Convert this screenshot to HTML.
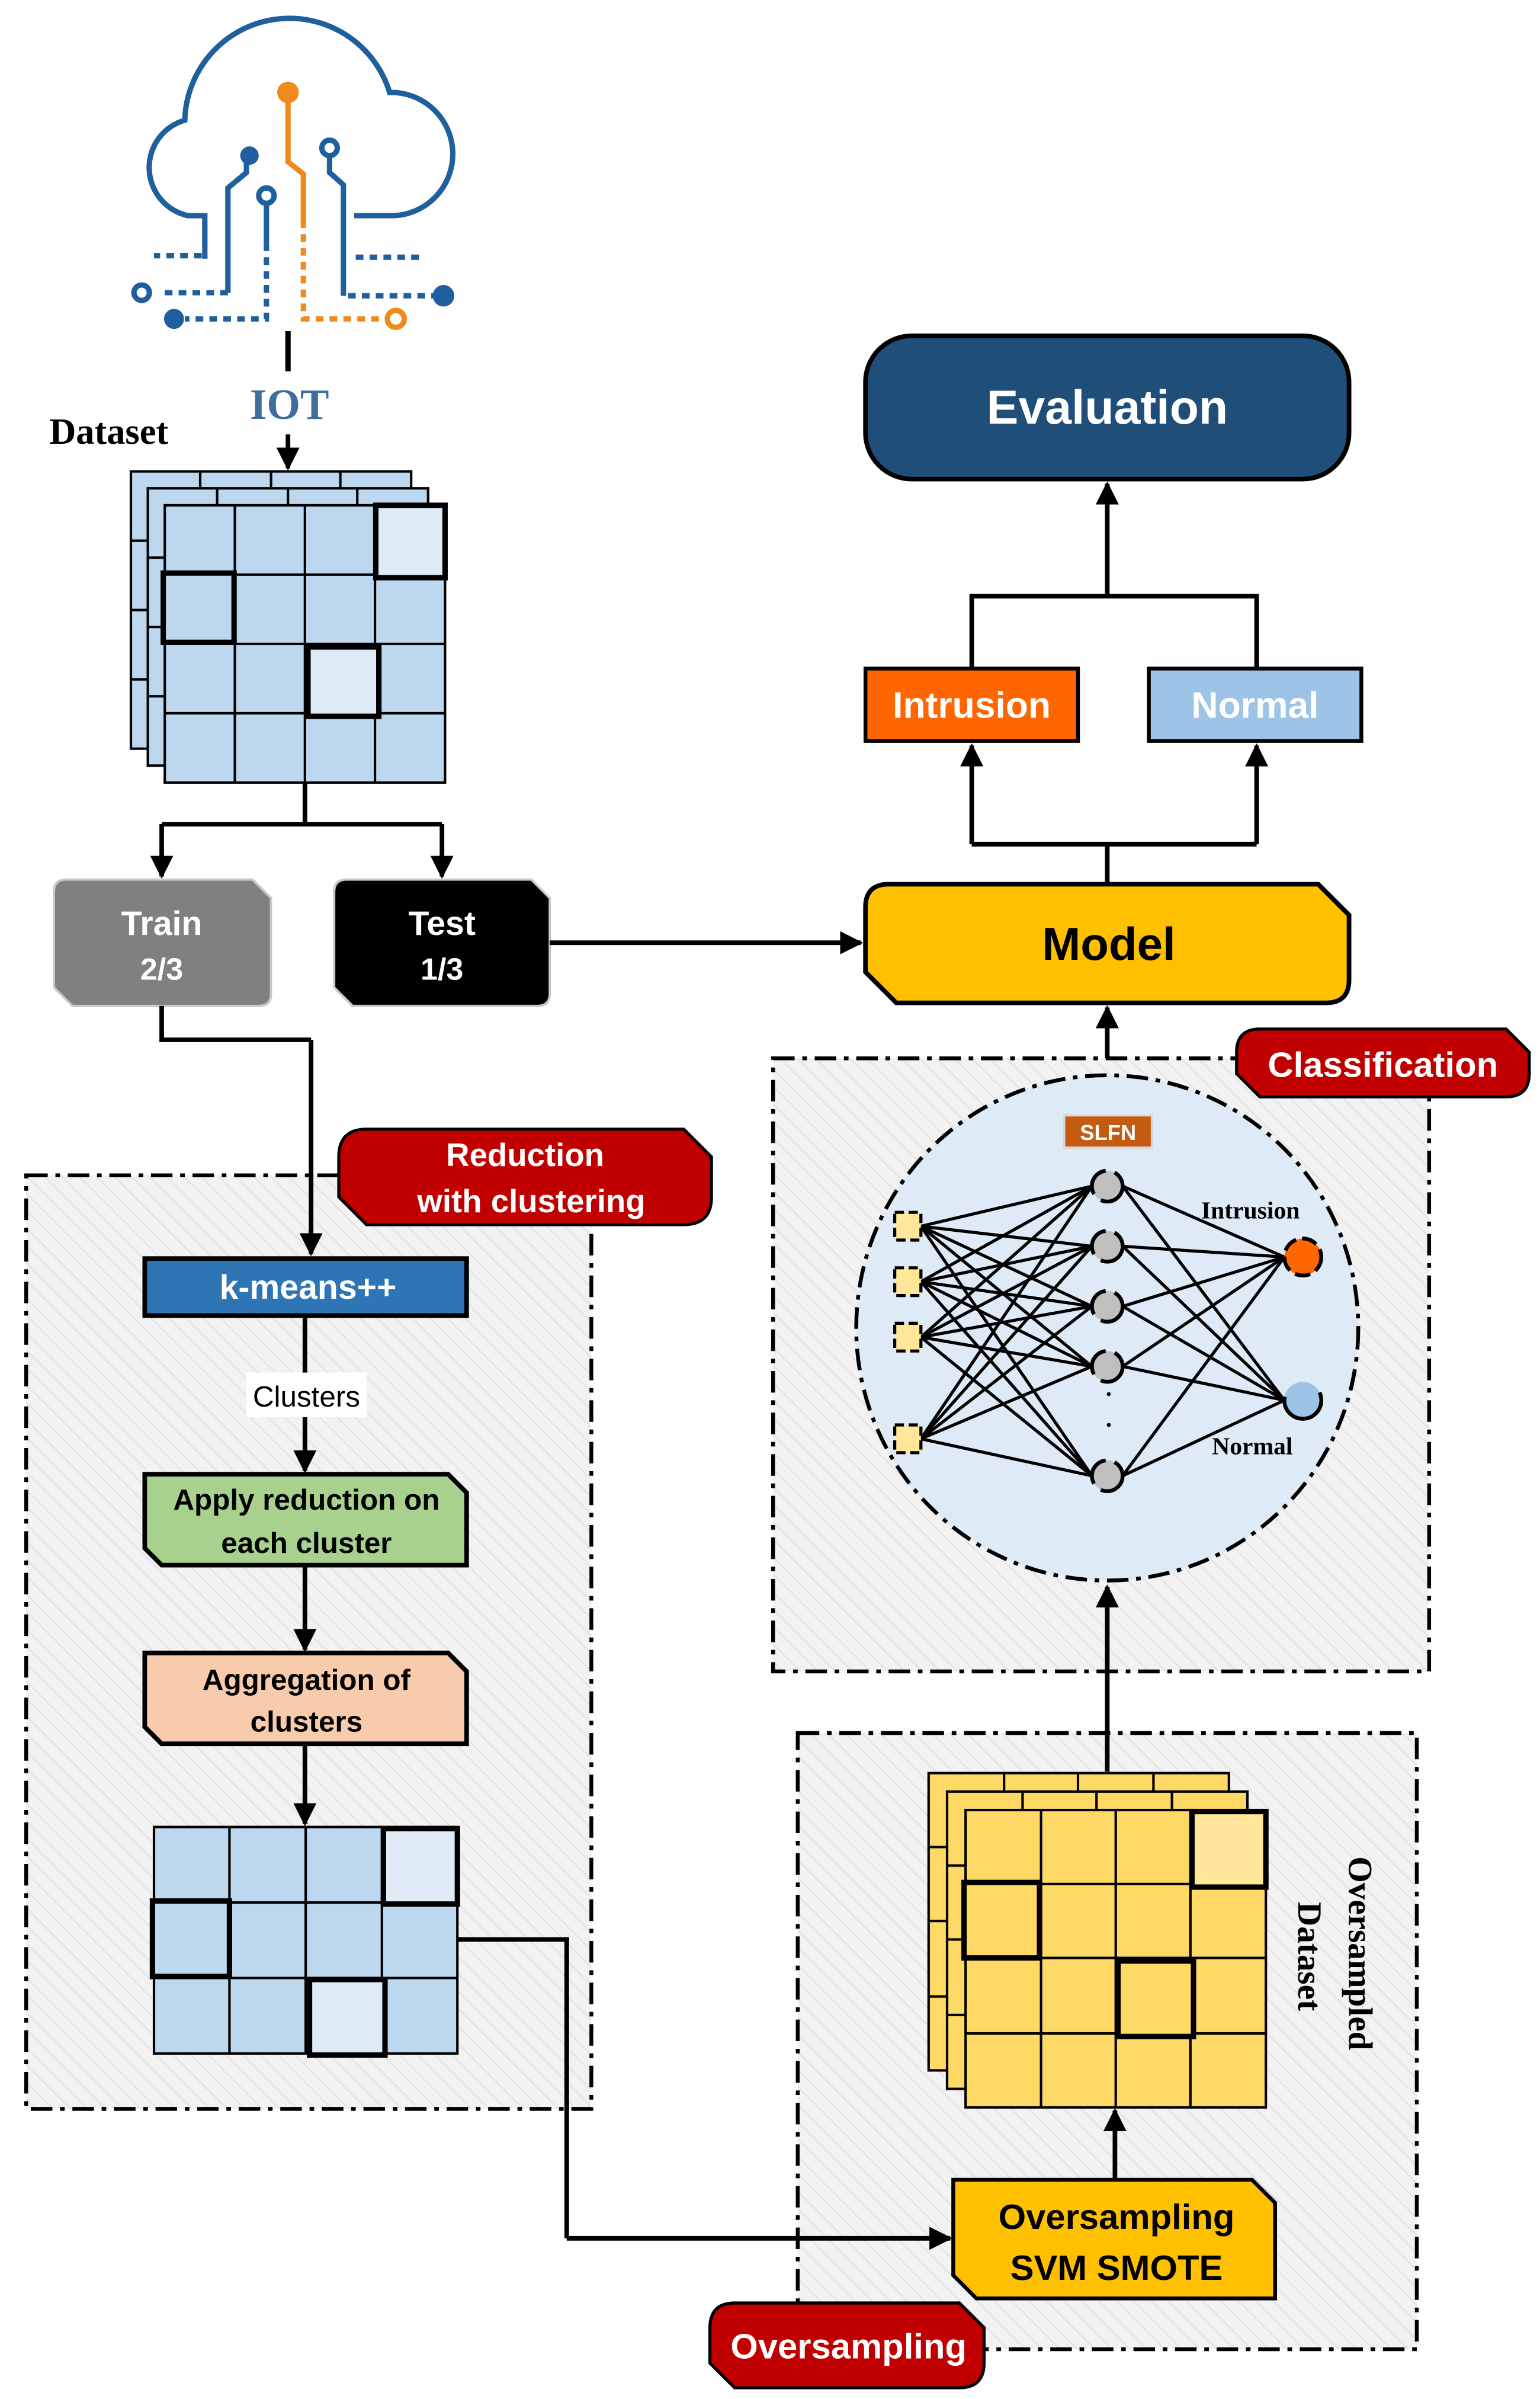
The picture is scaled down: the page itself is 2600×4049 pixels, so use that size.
<!DOCTYPE html>
<html><head><meta charset="utf-8"><style>html,body{margin:0;padding:0;background:#fff}svg{display:block}</style></head>
<body>
<svg width="2600" height="4049" viewBox="0 0 1000 1557.3" xmlns="http://www.w3.org/2000/svg">
<defs>
<pattern id="h" patternUnits="userSpaceOnUse" width="8" height="8" patternTransform="rotate(-45)">
<rect width="8" height="8" fill="#f2f2f2"/><line x1="0" y1="0" x2="0" y2="8" stroke="#e0e0e0" stroke-width="1.5"/></pattern>
<marker id="a" viewBox="0 0 10 10" refX="9" refY="5" markerWidth="5" markerHeight="5" orient="auto" markerUnits="strokeWidth"><path d="M0,0 L10,5 L0,10 Z" fill="#000"/></marker>
</defs>
<g font-family="Liberation Sans, sans-serif" font-weight="bold">

<!-- cloud -->
<g fill="none" stroke="#1f5f9e" stroke-width="3.5">
<path d="M133,168 L133,140 L122,140 A32,32 0 0 1 120,78 A68,68 0 0 1 253,60 A40,40 0 0 1 255,140 L230,140"/>
<path d="M148,190 L148,122 L160,112 L160,103"/>
<path d="M173,133 L173,158"/>
<path d="M214,101 L214,112 L223,120 L223,192"/>
<path d="M131,166 L100,166 M173,158 L173,207 L120,207 M148,190 L106,190 M226,192 L282,192 M231,167 L275,167" stroke-dasharray="5 4"/>
<circle cx="173" cy="127" r="5"/><circle cx="214" cy="96" r="5"/><circle cx="92" cy="190" r="5"/>
</g>
<circle cx="162" cy="101" r="6" fill="#1f5f9e"/><circle cx="113" cy="207" r="6.5" fill="#1f5f9e"/><circle cx="288" cy="192" r="7" fill="#1f5f9e"/>
<g fill="none" stroke="#f08a1c" stroke-width="3.5">
<path d="M187,62 L187,105 L197,113 L197,148"/>
<path d="M197,152 L197,207 L250,207" stroke-dasharray="5 4"/>
<circle cx="257" cy="207" r="5.5"/>
</g>
<circle cx="187" cy="60" r="7" fill="#f08a1c"/>

<line x1="187" y1="215" x2="187" y2="241" stroke="#000" stroke-width="3.5"/>
<text x="188" y="272" text-anchor="middle" font-family="Liberation Serif, serif" font-size="28" fill="#3e6e9e">IOT</text>
<text x="32" y="288" font-family="Liberation Serif, serif" font-size="24" fill="#000">Dataset</text>
<line x1="187" y1="282" x2="187" y2="304" stroke="#000" stroke-width="3" marker-end="url(#a)"/>

<!-- blue grid stack -->
<g stroke="#000" stroke-width="1.6" fill="#bdd7ee">
<rect x="85" y="306" width="182" height="180"/>
<path d="M130,306 V317 M176,306 V317 M221,306 V317 M85,351 H96 M85,396 H96 M85,441 H96" fill="none"/>
<rect x="96" y="317" width="182" height="180"/>
<path d="M141,317 V328 M187,317 V328 M232,317 V328 M96,362 H107 M96,407 H107 M96,452 H107" fill="none"/>
<rect x="107" y="328" width="182" height="180"/>
<path d="M152.5,328 V508 M198,328 V508 M243.5,328 V508 M107,373 H289 M107,418 H289 M107,463 H289" fill="none"/>
</g>
<g stroke="#000" stroke-width="3.5">
<rect x="244" y="328" width="45" height="47" fill="#deebf7"/>
<rect x="106" y="372" width="46" height="45" fill="#bdd7ee"/>
<rect x="200" y="420" width="46" height="45" fill="#deebf7"/>
</g>

<!-- split -->
<g stroke="#000" stroke-width="3" fill="none">
<path d="M198,508 V535 M105,535 H287"/>
<line x1="105" y1="535" x2="105" y2="569" marker-end="url(#a)"/>
<line x1="287" y1="535" x2="287" y2="569" marker-end="url(#a)"/>
</g>

<!-- Train / Test -->
<path d="M43,571 L164,571 L176,583 L176,645 Q176,653 168,653 L47,653 L35,641 L35,579 Q35,571 43,571Z" fill="#808080" stroke="#c8c8c8" stroke-width="1.5"/>
<text x="105" y="607" text-anchor="middle" font-size="22" fill="#fff">Train</text>
<text x="105" y="636" text-anchor="middle" font-size="20" fill="#fff">2/3</text>
<path d="M225,571 L345,571 L357,583 L357,645 Q357,653 349,653 L229,653 L217,641 L217,579 Q217,571 225,571Z" fill="#000" stroke="#c8c8c8" stroke-width="1.5"/>
<text x="287" y="607" text-anchor="middle" font-size="22" fill="#fff">Test</text>
<text x="287" y="636" text-anchor="middle" font-size="20" fill="#fff">1/3</text>
<line x1="357" y1="612" x2="559" y2="612" stroke="#000" stroke-width="3" marker-end="url(#a)"/>

<!-- Model -->
<path d="M577,574 L856,574 L876,594 L876,636 Q876,651 861,651 L582,651 L562,631 L562,589 Q562,574 577,574Z" fill="#ffc000" stroke="#000" stroke-width="3"/>
<text x="720" y="623" text-anchor="middle" font-size="30" fill="#000">Model</text>

<g stroke="#000" stroke-width="3" fill="none">
<path d="M719,574 V548 M631,548 H816"/>
<line x1="631" y1="548" x2="631" y2="484" marker-end="url(#a)"/>
<line x1="816" y1="548" x2="816" y2="484" marker-end="url(#a)"/>
<path d="M631,434 V387 H816 V434"/>
<line x1="719" y1="387" x2="719" y2="314" marker-end="url(#a)"/>
</g>
<rect x="562" y="434" width="138" height="47" fill="#ff6600" stroke="#000" stroke-width="2.5"/>
<text x="631" y="466" text-anchor="middle" font-size="24" fill="#fff">Intrusion</text>
<rect x="746" y="434" width="138" height="47" fill="#9dc3e6" stroke="#000" stroke-width="2.5"/>
<text x="815" y="466" text-anchor="middle" font-size="24" fill="#fff">Normal</text>
<rect x="562" y="218" width="314" height="93" rx="30" fill="#1f4e79" stroke="#000" stroke-width="3"/>
<text x="719" y="275" text-anchor="middle" font-size="31" fill="#fff">Evaluation</text>

<!-- Classification box -->
<rect x="502" y="687" width="426" height="398" fill="url(#h)" stroke="#000" stroke-width="2.5" stroke-dasharray="14 5 3 5"/>
<line x1="719" y1="687" x2="719" y2="654" stroke="#000" stroke-width="3" marker-end="url(#a)"/>
<path d="M818,668 L978,668 L993,683 L993,697 Q993,712 978,712 L818,712 L803,697 L803,683 Q803,668 818,668Z" fill="#c00000" stroke="#000" stroke-width="2"/>
<text x="898" y="699" text-anchor="middle" font-size="23" fill="#fff">Classification</text>
<ellipse cx="719" cy="862" rx="163" ry="164" fill="#deebf7" stroke="#000" stroke-width="2.5" stroke-dasharray="14 5 3 5"/>
<rect x="691" y="724" width="57" height="21" fill="#c55a11" stroke="#d9d9d9" stroke-width="1.5"/>
<text x="719.5" y="740" text-anchor="middle" font-size="14" fill="#fff">SLFN</text>
<g stroke="#000" stroke-width="2">
<path d="M598,796 L709,770 M598,796 L709,809 M598,796 L709,848 M598,796 L709,887 M598,796 L709,958
M598,832 L709,770 M598,832 L709,809 M598,832 L709,848 M598,832 L709,887 M598,832 L709,958
M598,868 L709,770 M598,868 L709,809 M598,868 L709,848 M598,868 L709,887 M598,868 L709,958
M598,934 L709,770 M598,934 L709,809 M598,934 L709,848 M598,934 L709,887 M598,934 L709,958
M729,770 L834,816 M729,770 L834,909 M729,809 L834,816 M729,809 L834,909 M729,848 L834,816 M729,848 L834,909
M729,887 L834,816 M729,887 L834,909 M729,958 L834,816 M729,958 L834,909"/>
</g>
<g fill="#ffe699" stroke="#000" stroke-width="2" stroke-dasharray="6 3">
<rect x="581" y="787" width="17" height="18"/><rect x="581" y="823" width="17" height="18"/>
<rect x="581" y="859" width="17" height="18"/><rect x="581" y="925" width="17" height="18"/>
</g>
<g fill="#bfbfbf" stroke="#000" stroke-width="2.5" stroke-dasharray="20 6">
<circle cx="719" cy="770" r="10"/><circle cx="719" cy="809" r="10"/><circle cx="719" cy="848" r="10"/>
<circle cx="719" cy="887" r="10"/><circle cx="719" cy="958" r="10"/>
</g>
<circle cx="720" cy="905" r="1.3" fill="#000"/><circle cx="720" cy="925" r="1.3" fill="#000"/>
<circle cx="846" cy="816" r="12" fill="#ff6600" stroke="#000" stroke-width="2.5" stroke-dasharray="10 4"/>
<circle cx="846" cy="909" r="12" fill="#9dc3e6" stroke="#000" stroke-width="2.5" stroke-dasharray="40 30"/>
<text x="780" y="791" font-family="Liberation Serif, serif" font-size="16" fill="#000">Intrusion</text>
<text x="787" y="944" font-family="Liberation Serif, serif" font-size="16" fill="#000">Normal</text>

<!-- Reduction box -->
<rect x="17" y="763" width="367" height="606" fill="url(#h)" stroke="#000" stroke-width="2.5" stroke-dasharray="14 5 3 5"/>
<path d="M105,653 V675 H202" stroke="#000" stroke-width="3" fill="none"/>
<line x1="202" y1="675" x2="202" y2="814" stroke="#000" stroke-width="3" marker-end="url(#a)"/>
<path d="M238,733 L444,733 L462,751 L462,777 Q462,795 444,795 L238,795 L220,777 L220,751 Q220,733 238,733Z" fill="#c00000" stroke="#000" stroke-width="2"/>
<text x="341" y="757" text-anchor="middle" font-size="21" fill="#fff">Reduction</text>
<text x="345" y="787" text-anchor="middle" font-size="21" fill="#fff">with clustering</text>
<rect x="94" y="817" width="209" height="37" fill="#2e75b6" stroke="#000" stroke-width="3"/>
<text x="200" y="843" text-anchor="middle" font-size="22" fill="#fff">k-means++</text>
<line x1="198" y1="855" x2="198" y2="955" stroke="#000" stroke-width="3" marker-end="url(#a)"/>
<rect x="160" y="891" width="78" height="29" fill="#fff"/>
<text x="199" y="913" text-anchor="middle" font-size="19" font-weight="normal" fill="#000">Clusters</text>
<path d="M94,957 L291,957 L303,969 L303,1016 L105,1016 L94,1005 Z" fill="#a9d18e" stroke="#000" stroke-width="3"/>
<text x="199" y="980" text-anchor="middle" font-size="19" fill="#000">Apply reduction on</text>
<text x="199" y="1008" text-anchor="middle" font-size="19" fill="#000">each cluster</text>
<line x1="198" y1="1016" x2="198" y2="1071" stroke="#000" stroke-width="3" marker-end="url(#a)"/>
<path d="M94,1073 L291,1073 L303,1085 L303,1132 L105,1132 L94,1121 Z" fill="#f8cbad" stroke="#000" stroke-width="3"/>
<text x="199" y="1097" text-anchor="middle" font-size="19" fill="#000">Aggregation of</text>
<text x="199" y="1124" text-anchor="middle" font-size="19" fill="#000">clusters</text>
<line x1="198" y1="1132" x2="198" y2="1184" stroke="#000" stroke-width="3" marker-end="url(#a)"/>
<g stroke="#000" stroke-width="1.6" fill="#bdd7ee">
<rect x="100" y="1186" width="197" height="147"/>
<path d="M149,1186 V1333 M198.5,1186 V1333 M248,1186 V1333 M100,1235 H297 M100,1284 H297" fill="none"/>
</g>
<g stroke="#000" stroke-width="3.5">
<rect x="249" y="1187" width="48" height="49" fill="#deebf7"/>
<rect x="99" y="1234" width="50" height="49" fill="#bdd7ee"/>
<rect x="201" y="1285" width="49" height="49" fill="#deebf7"/>
</g>

<!-- Oversampling box -->
<rect x="518" y="1125" width="402" height="400" fill="url(#h)" stroke="#000" stroke-width="2.5" stroke-dasharray="14 5 3 5"/>
<path d="M297,1259 H368 V1453" stroke="#000" stroke-width="3" fill="none"/>
<line x1="368" y1="1453" x2="617" y2="1453" stroke="#000" stroke-width="3" marker-end="url(#a)"/>
<g stroke="#000" stroke-width="1.6" fill="#ffd966">
<rect x="603" y="1151" width="195" height="193"/>
<path d="M652,1151 V1163 M700,1151 V1163 M749,1151 V1163 M603,1199 H615 M603,1247 H615 M603,1296 H615" fill="none"/>
<rect x="615" y="1163" width="195" height="193"/>
<path d="M664,1163 V1175 M712,1163 V1175 M761,1163 V1175 M615,1211 H627 M615,1259 H627 M615,1308 H627" fill="none"/>
<rect x="627" y="1175" width="195" height="193"/>
<path d="M676,1175 V1368 M724.5,1175 V1368 M773,1175 V1368 M627,1223 H822 M627,1271 H822 M627,1320 H822" fill="none"/>
</g>
<g stroke="#000" stroke-width="3.5">
<rect x="774" y="1176" width="48" height="49" fill="#ffe699"/>
<rect x="626" y="1222" width="49" height="49" fill="#ffd966"/>
<rect x="726" y="1273" width="49" height="49" fill="#ffd966"/>
</g>
<line x1="719" y1="1150" x2="719" y2="1030" stroke="#000" stroke-width="3" marker-end="url(#a)"/>
<text transform="translate(876,1268) rotate(90)" text-anchor="middle" font-family="Liberation Serif, serif" font-size="22" fill="#000">Oversampled</text>
<text transform="translate(843,1270) rotate(90)" text-anchor="middle" font-family="Liberation Serif, serif" font-size="22" fill="#000">Dataset</text>
<path d="M619,1415 L813,1415 L828,1430 L828,1492 L634,1492 L619,1477 Z" fill="#ffc000" stroke="#000" stroke-width="2.5"/>
<text x="725" y="1447" text-anchor="middle" font-size="23" fill="#000">Oversampling</text>
<text x="725" y="1480" text-anchor="middle" font-size="23" fill="#000">SVM SMOTE</text>
<line x1="724" y1="1415" x2="724" y2="1370" stroke="#000" stroke-width="3" marker-end="url(#a)"/>
<path d="M477,1495 L623,1495 L639,1511 L639,1534 Q639,1550 623,1550 L477,1550 L461,1534 L461,1511 Q461,1495 477,1495Z" fill="#c00000" stroke="#000" stroke-width="2"/>
<text x="551" y="1531" text-anchor="middle" font-size="23" fill="#fff">Oversampling</text>
</g>
</svg>
</body></html>
